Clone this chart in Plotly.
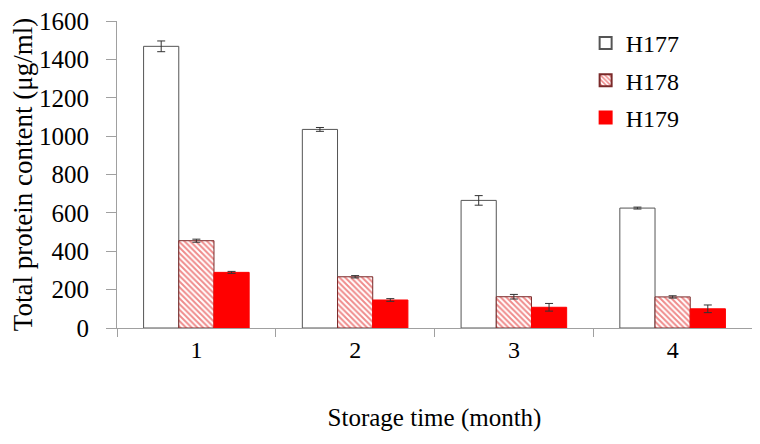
# Import libraries and modules
import plotly.graph_objs as go

# Data
months = ["1", "2", "3", "4"]

h177 = [1468, 1035, 665, 625]
h177_err = [28, 10, 25, 5]

h178 = [455, 267, 163, 162]
h178_err = [8, 6, 12, 6]

h179 = [290, 146, 108, 100]
h179_err = [5, 7, 20, 20]

series_names = ["H177", "H178", "H179"]

err_style = dict(type = "data", color = "#333333", thickness = 1, width = 4)

# Build the traces
trace_0 = go.Bar(
  x = months,
  y = h177,
  name = series_names[0],
  legendgroup = "a",
  error_y = dict(array = h177_err, **err_style),
  marker = dict(
    color = "white",
    line = dict(color = "#555555", width = 1)
  )
)

trace_1 = go.Bar(
  x = months,
  y = h178,
  name = series_names[1],
  legendgroup = "b",
  error_y = dict(array = h178_err, **err_style),
  marker = dict(
    color = "white",
    pattern = dict(shape = "\\", fgcolor = "#e01818", bgcolor = "white",
                   size = 4, solidity = 0.5),
    line = dict(color = "#7a2a2a", width = 1)
  )
)

trace_2 = go.Bar(
  x = months,
  y = h179,
  name = series_names[2],
  legendgroup = "c",
  error_y = dict(array = h179_err, **err_style),
  marker = dict(
    color = "#ff0000",
    line = dict(color = "#ff0000", width = 1)
  )
)

data = [trace_0, trace_1, trace_2]

font_family = "Liberation Serif"

layout = go.Layout(
  width = 760,
  height = 444,
  barmode = "group",
  bargap = 0.335,
  bargroupgap = 0,
  plot_bgcolor = "white",
  paper_bgcolor = "white",
  font = dict(family = font_family, color = "black", size = 24),
  margin = dict(l = 109, r = 16, t = 13, b = 124, autoexpand = False),
  showlegend = True,
  legend = dict(
    x = 0.738, y = 1.0,
    xanchor = "left", yanchor = "top",
    font = dict(size = 24),
    bgcolor = "rgba(0,0,0,0)",
    traceorder = "grouped",
    tracegroupgap = 3,
    itemsizing = "constant"
  ),
  xaxis = dict(
    title = dict(text = "Storage time (month)", font = dict(size = 25), standoff = 46),
    automargin = False,
    showline = True,
    linecolor = "#a0a0a0",
    linewidth = 1,
    ticks = "outside",
    tickson = "boundaries",
    ticklen = 8,
    tickcolor = "#a0a0a0",
    showgrid = False,
    tickfont = dict(size = 24)
  ),
  yaxis = dict(
    title = dict(text = "Total protein content (μg/ml)", font = dict(size = 27), standoff = 6),
    automargin = False,
    range = [0, 1600],
    dtick = 200,
    showline = True,
    linecolor = "#a0a0a0",
    linewidth = 1,
    ticks = "outside",
    ticklen = 10,
    tickcolor = "#a0a0a0",
    ticklabelstandoff = 12,
    ticklabeloverflow = "allow",
    showgrid = False,
    zeroline = False,
    tickfont = dict(size = 25)
  )
)

# Build the plot
fig = go.Figure(
  data = data,
  layout = layout
)

# Save the plot
fig.write_html("out.html")
